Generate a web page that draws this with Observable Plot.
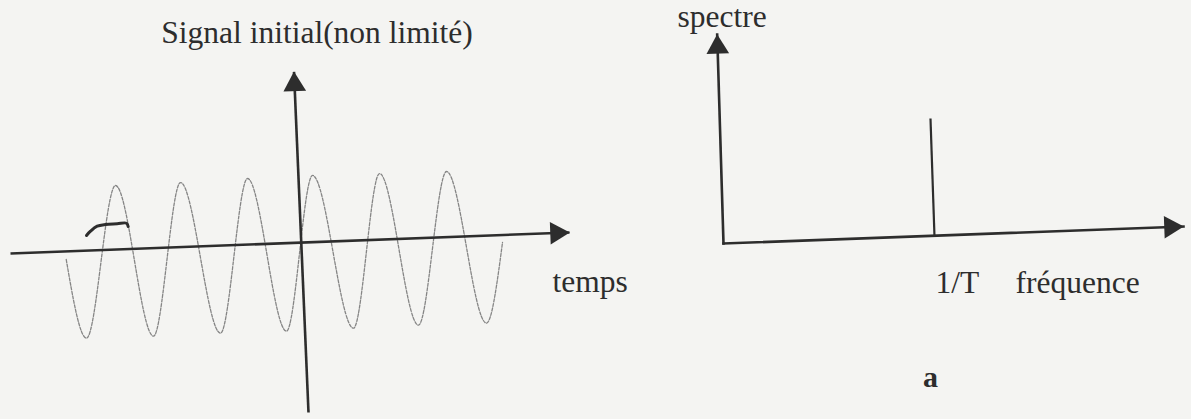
<!DOCTYPE html>
<html>
<head>
<meta charset="utf-8">
<script src="https://cdn.jsdelivr.net/npm/d3@7"></script>
<script src="https://cdn.jsdelivr.net/npm/@observablehq/plot@0.6"></script>
<style>
  html, body { margin: 0; padding: 0; background: #f4f4f2; }
  #wrap { position: relative; width: 1191px; height: 419px; overflow: hidden; background: #f4f4f2; }
  #wrap svg { position: absolute; top: 0; background: transparent; overflow: visible; }
</style>
</head>
<body>
<div id="wrap"></div>
<script>
// ---------- Left panel: signal in time (t in periods T, amplitude a) ----------
const sineT = [-3.514, -3.21, -2.775, -2.205, -1.8, -1.2, -0.795, -0.21, 0.18, 0.795, 1.185, 1.77, 2.19, 2.79, 3.03];
const sineA = [-0.218, -1.231, 0.736, -1.206, 0.774, -1.167, 0.826, -1.141, 0.865, -1.103, 0.89, -1.064, 0.916, -1.038, 0.001];
const timeAxisT = [-4.35, 4.035];
const timeAxisA = [-0.14, 0.13];
const ampAxisT = [0.12, -0.0975];
const ampAxisA = [-2.19, 2.2];
// handwritten stroke on the scan
const strokeT = [-3.21, -3.15, -3.05, -2.925, -2.75, -2.61, -2.585];
const strokeA = [0.0915, 0.147, 0.211, 0.233, 0.242, 0.25, 0.207];
const titleText = ["Signal initial(non limité)"];
const titleT = [0.2475];
const titleA = [2.566];
const timeLabel = ["temps"];
const timeLabelT = [3.78];
const timeLabelA = [-0.643];

// ---------- Right panel: spectrum (f in units of 1/T) ----------
const freqAxisF = [0, 2.18];
const freqAxisA = [0, 0.144];
const specAxisF = [0, -0.0299];
const specAxisA = [0, 1.771];
const lineF = [1.0, 0.981];
const lineA = [0.059, 1.059];
const rightLabels = ["spectre", "1/T", "fréquence"];
const rightLabelF = [-0.218, 1.005, 1.384];
const rightLabelA = [1.8305, -0.4237, -0.4237];
const captionText = ["a"];
const captionF = [0.981];
const captionA = [-1.22];

const INK = "#2d2d2d";
const FONT = "Liberation Serif, Times New Roman, serif";
const FS = 31.5;

const sine = sineT.map((t, i) => ({t, a: sineA[i]}));
const scribble = strokeT.map((t, i) => ({t, a: strokeA[i]}));
const leftAxes = [
  {x1: timeAxisT[0], y1: timeAxisA[0], x2: timeAxisT[1], y2: timeAxisA[1]},
  {x1: ampAxisT[0], y1: ampAxisA[0], x2: ampAxisT[1], y2: ampAxisA[1]}
];
const title = titleText.map((s, i) => ({s, t: titleT[i], a: titleA[i]}));
const tLabel = timeLabel.map((s, i) => ({s, t: timeLabelT[i], a: timeLabelA[i]}));

const left = Plot.plot({
  width: 640, height: 419,
  margin: 0,
  x: {domain: [-4.5, 5.1], axis: null},
  y: {domain: [-2.2797, 3.1198], axis: null},
  style: {background: "transparent"},
  marks: [
    Plot.line(sine, {x: "t", y: "a", curve: "monotone-x", stroke: "#858585", strokeWidth: 1.3, strokeDasharray: "3,1.6"}),
    Plot.line(scribble, {x: "t", y: "a", curve: "catmull-rom", stroke: INK, strokeWidth: 3, strokeLinecap: "round"}),
    Plot.link(leftAxes, {x1: "x1", y1: "y1", x2: "x2", y2: "y2", stroke: INK, strokeWidth: 2.6}),
    Plot.dot([{t: timeAxisT[1], a: timeAxisA[1]}], {x: "t", y: "a", symbol: "triangle", r: 8.4, fill: INK, stroke: "none", rotate: 87.8, dx: -12.7, dy: 0.5}),
    Plot.dot([{t: ampAxisT[1], a: ampAxisA[1]}], {x: "t", y: "a", symbol: "triangle", r: 8.4, fill: INK, stroke: "none", rotate: -2.4, dx: 0.5, dy: 12.7}),
    Plot.text(title, {x: "t", y: "a", text: "s", textAnchor: "middle", lineAnchor: "bottom", fontFamily: FONT, fontSize: FS, fill: INK}),
    Plot.text(tLabel, {x: "t", y: "a", text: "s", textAnchor: "start", lineAnchor: "bottom", fontFamily: FONT, fontSize: FS, fill: INK})
  ]
});
left.style.left = "0px";

const rightAxes = [
  {x1: freqAxisF[0], y1: freqAxisA[0], x2: freqAxisF[1], y2: freqAxisA[1]},
  {x1: specAxisF[0], y1: specAxisA[0], x2: specAxisF[1], y2: specAxisA[1]}
];
const spike = [{x1: lineF[0], y1: lineA[0], x2: lineF[1], y2: lineA[1]}];
const rightText = rightLabels.map((s, i) => ({s, f: rightLabelF[i], a: rightLabelA[i]}));
const caption = captionText.map((s, i) => ({s, f: captionF[i], a: captionA[i]}));

const right = Plot.plot({
  width: 591, height: 419,
  margin: 0,
  x: {domain: [-0.5829, 2.218], axis: null},
  y: {domain: [-1.4915, 2.0593], axis: null},
  style: {background: "transparent"},
  marks: [
    Plot.link(rightAxes, {x1: "x1", y1: "y1", x2: "x2", y2: "y2", stroke: INK, strokeWidth: 2.6, strokeLinecap: "square"}),
    Plot.link(spike, {x1: "x1", y1: "y1", x2: "x2", y2: "y2", stroke: INK, strokeWidth: 2.2}),
    Plot.dot([{f: freqAxisF[1], a: freqAxisA[1]}], {x: "f", y: "a", symbol: "triangle", r: 8.4, fill: INK, stroke: "none", rotate: 87.9, dx: -12.7, dy: 0.5}),
    Plot.dot([{f: specAxisF[1], a: specAxisA[1]}], {x: "f", y: "a", symbol: "triangle", r: 8.4, fill: INK, stroke: "none", rotate: -1.9, dx: 0.4, dy: 12.7}),
    Plot.text(rightText, {x: "f", y: "a", text: "s", textAnchor: "start", lineAnchor: "bottom", fontFamily: FONT, fontSize: FS, fill: INK}),
    Plot.text(caption, {x: "f", y: "a", text: "s", textAnchor: "middle", lineAnchor: "bottom", fontFamily: FONT, fontSize: 30, fontWeight: "bold", fill: INK})
  ]
});
right.style.left = "600px";

const wrap = document.getElementById("wrap");
wrap.appendChild(left);
wrap.appendChild(right);
</script>
</body>
</html>
